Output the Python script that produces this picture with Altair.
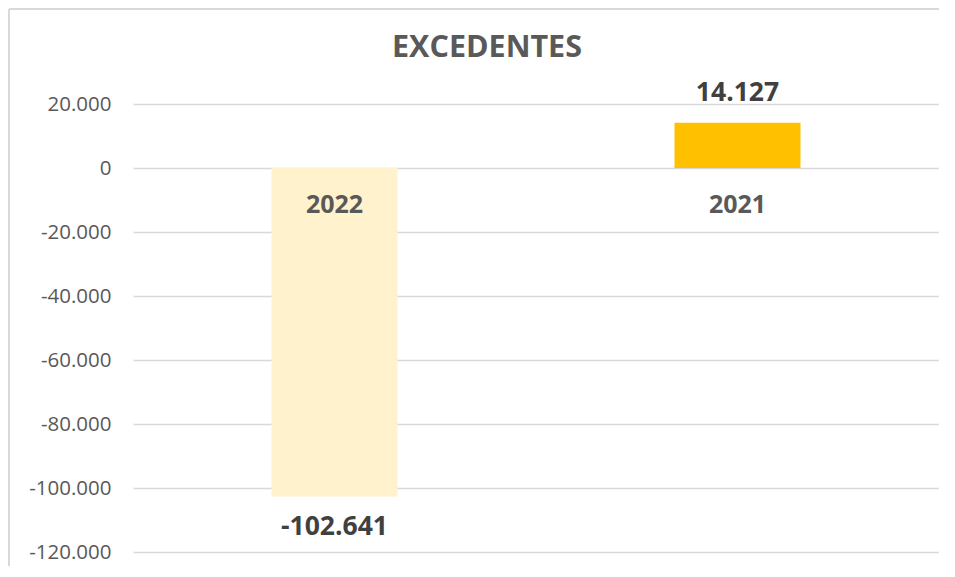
import altair as alt
import pandas as pd

title_text = "EXCEDENTES"
years = ["2022", "2021"]
values = [-102641, 14127]
colors = ["#FFF2CC", "#FFC000"]
y_ticks = [20000, 0, -20000, -40000, -60000, -80000, -100000, -120000]

df = pd.DataFrame({"year": years, "value": values, "color": colors})

FONT = "Open Sans"

x = alt.X("year:N", sort=years, axis=None,
          scale=alt.Scale(paddingInner=0, paddingOuter=0))
y = alt.Y("value:Q",
          scale=alt.Scale(domain=[-120000, 20000], nice=False, zero=True),
          axis=alt.Axis(values=y_ticks, format=",.0f", title=None,
                        domain=False, ticks=False, labelPadding=22,
                        labelFont=FONT, labelFontSize=20.5, labelColor="#595959",
                        grid=True, gridColor="#D9D9D9", gridWidth=1.5))

base = alt.Chart(df)

bars = base.mark_bar(size=126).encode(
    x=x, y=y, color=alt.Color("color:N", scale=None)
)

pos_lab = base.transform_filter("datum.value >= 0").mark_text(
    font=FONT, fontSize=26.5, fontWeight="bold", color="#404040",
    baseline="middle", dy=-30
).encode(x=x, y="value:Q", text=alt.Text("value:Q", format=",.0f"))

neg_lab = base.transform_filter("datum.value < 0").mark_text(
    font=FONT, fontSize=26.5, fontWeight="bold", color="#404040",
    baseline="middle", dy=31
).encode(x=x, y="value:Q", text=alt.Text("value:Q", format=",.0f"))

cat_lab = base.mark_text(
    font=FONT, fontSize=25, fontWeight="bold", color="#595959",
    baseline="middle", dy=37
).encode(x=x, y=alt.datum(0), text="year:N")

title = alt.Chart(pd.DataFrame({"t": [title_text]})).mark_text(
    font=FONT, fontSize=30.5, fontWeight="bold", color="#595959",
    baseline="middle", align="center"
).encode(x=alt.value(354), y=alt.value(-56), text="t:N")

border_top = base.mark_rule(color="#D9D9D9", strokeWidth=2).encode(
    x=alt.value(-124), x2=alt.value(810), y=alt.value(-95)
)
border_left = base.mark_rule(color="#D9D9D9", strokeWidth=2).encode(
    x=alt.value(-124), y=alt.value(-95), y2=alt.value(462)
)

chart = alt.layer(border_top, border_left, bars, pos_lab, neg_lab, cat_lab, title).properties(
    width=806, height=448,
    autosize=alt.AutoSizeParams(type="none"),
    padding={"left": 125, "top": 96, "right": 0, "bottom": 14},
).configure(
    locale={"number": {"decimal": ",", "thousands": ".", "grouping": [3],
                       "currency": ["", ""], "minus": "-"}}
).configure_view(strokeWidth=0)

chart.save("out.html", embed_options={"renderer": "svg", "actions": False})
